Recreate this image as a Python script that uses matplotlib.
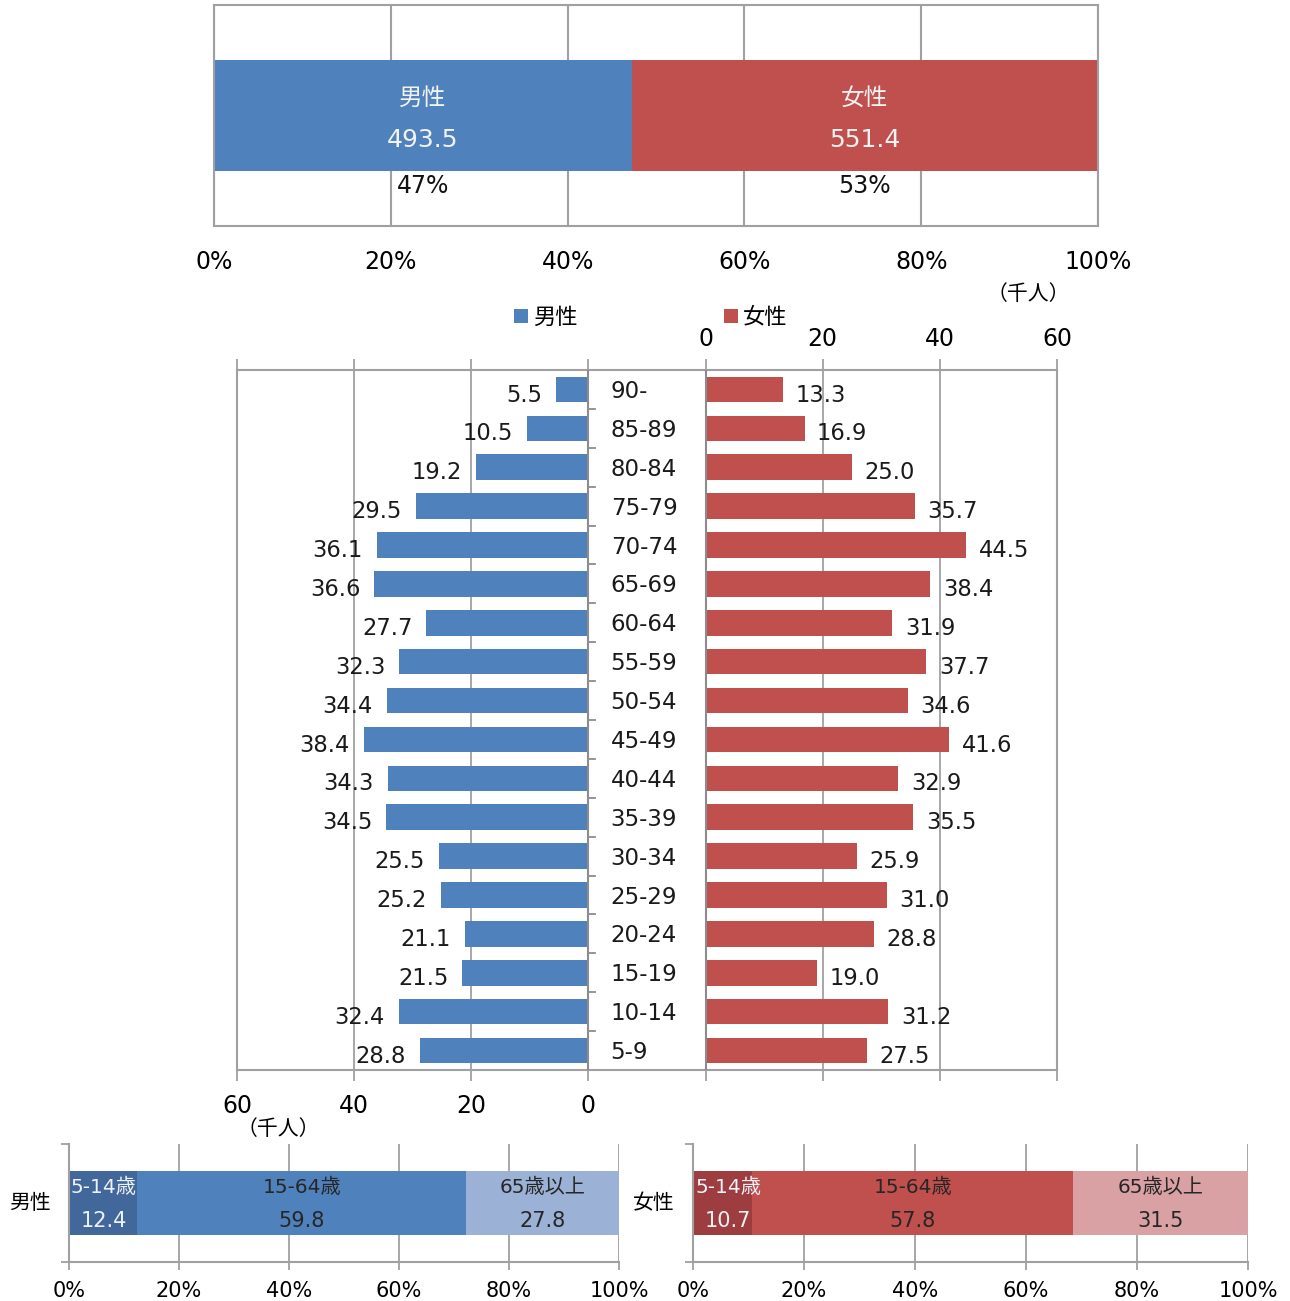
import numpy as np
import matplotlib
matplotlib.use("Agg")
import matplotlib.pyplot as plt

plt.rcParams['font.family'] = ['DejaVu Sans', 'Noto Sans CJK JP']

# totals (thousand people)
sexes = ['男性', '女性']
totals = [493.5, 551.4]

# population pyramid (thousand people)
age_groups = ['90-', '85-89', '80-84', '75-79', '70-74', '65-69', '60-64', '55-59',
              '50-54', '45-49', '40-44', '35-39', '30-34', '25-29', '20-24', '15-19',
              '10-14', '5-9']
male = [5.5, 10.5, 19.2, 29.5, 36.1, 36.6, 27.7, 32.3, 34.4, 38.4, 34.3, 34.5,
        25.5, 25.2, 21.1, 21.5, 32.4, 28.8]
female = [13.3, 16.9, 25.0, 35.7, 44.5, 38.4, 31.9, 37.7, 34.6, 41.6, 32.9, 35.5,
          25.9, 31.0, 28.8, 19.0, 31.2, 27.5]

# age structure shares (%)
band_labels = ['5-14歳', '15-64歳', '65歳以上']
male_share = [12.4, 59.8, 27.8]
female_share = [10.7, 57.8, 31.5]

BLUE = '#4F81BD'
RED = '#C0504D'
male_cols = ['#42679A', BLUE, '#9BB2D6']
female_cols = ['#9E3D40', RED, '#D9A1A3']
band_txt = ['#EEF2F8', '#262626', '#262626']
GRID = '#A0A0A0'

W, H = 1290, 1301
fig = plt.figure(figsize=(W / 100, H / 100), dpi=100)


def px_axes(x0, y0, x1, y1):
    return fig.add_axes([x0 / W, 1 - y1 / H, (x1 - x0) / W, (y1 - y0) / H])


# ---- top: share of total by sex ----
ax = px_axes(214, 5, 1098, 226)
pct = np.array(totals) / sum(totals) * 100
left = 0
for name, tot, p, col in zip(sexes, totals, pct, [BLUE, RED]):
    ax.barh(0, p, left=left, height=0.5, color=col, zorder=2)
    cx = left + p / 2
    ax.text(cx, 0.078, name, ha='center', va='center', color='#F2F2F2', fontsize=17, zorder=3)
    ax.text(cx, -0.113, f'{tot:.1f}', ha='center', va='center', color='#F2F2F2', fontsize=18, zorder=3)
    ax.text(cx, -0.32, f'{p:.0f}%', ha='center', va='center', color='#111111', fontsize=17, zorder=3)
    left += p
ax.set_xlim(0, 100)
ax.set_ylim(-0.5, 0.5)
ax.set_xticks(np.arange(0, 101, 20))
ax.set_xticklabels([f'{v}%' for v in range(0, 101, 20)])
ax.set_yticks([])
ax.tick_params(axis='x', length=0, pad=17, labelsize=17)
ax.grid(axis='x', color=GRID, lw=1.5, zorder=1)
for s in ax.spines.values():
    s.set_color(GRID)
    s.set_linewidth(1.5)

fig.text(1028 / W, 1 - 294 / H, '（千人）', ha='center', va='center', fontsize=15)

# ---- middle: population pyramid ----
GAP = 20
ax = px_axes(237, 370, 1057, 1070)
y = np.arange(len(age_groups))
mb = ax.barh(y, [-v for v in male], height=0.66, color=BLUE, zorder=2)
fb = ax.barh(y, female, left=GAP, height=0.66, color=RED, zorder=2)
for yi, v in zip(y, male):
    ax.annotate(f'{v:.1f}', (-v, yi), xytext=(-10, -4), textcoords='offset points',
                ha='right', va='center', fontsize=16.3, color='#1a1a1a', zorder=3)
for yi, v in zip(y, female):
    ax.annotate(f'{v:.1f}', (GAP + v, yi), xytext=(9, -4), textcoords='offset points',
                ha='left', va='center', fontsize=16.3, color='#1a1a1a', zorder=3)
for yi, lab in zip(y, age_groups):
    ax.annotate(lab, (0, yi), xytext=(16, -1.5), textcoords='offset points',
                ha='left', va='center', fontsize=16.5, color='#1a1a1a')
ax.set_ylim(len(age_groups) - 0.5, -0.5)
ax.set_xlim(-60, 60 + GAP)
for gx in [-40, -20, GAP + 20, GAP + 40]:
    ax.axvline(gx, color=GRID, lw=1.3, zorder=1)
ax.axvline(0, color='#8C8C8C', lw=1.5, zorder=3)
ax.axvline(GAP, color='#8C8C8C', lw=1.5, zorder=3)
for b in np.arange(0.5, len(age_groups) - 1, 1):
    ax.plot([0, 1.2], [b, b], color='#8C8C8C', lw=1.3, zorder=3)
xt = np.arange(-60, 60 + GAP + 1, 20)
ax.set_xticks(xt)
ax.set_xticklabels([str(abs(v)) if v <= 0 else '' for v in xt])
sec = ax.secondary_xaxis('top')
sec.set_xticks(xt)
sec.set_xticklabels([str(v - GAP) if v >= GAP else '' for v in xt])
sec.tick_params(length=8, color=GRID, width=1.3, pad=6, labelsize=17)
sec.spines['top'].set_visible(False)
ax.tick_params(axis='x', length=8, color=GRID, width=1.3, pad=9, labelsize=17)
ax.set_yticks([])
for s in ax.spines.values():
    s.set_color(GRID)
    s.set_linewidth(1.5)

ax.legend([mb, fb], sexes, ncol=2, loc='center', bbox_to_anchor=(651 / W, 1 - 317 / H),
          bbox_transform=fig.transFigure, frameon=False, fontsize=16, handlelength=0.6,
          handleheight=0.6, handletextpad=0.25, columnspacing=6.6)
fig.text(278 / W, 1 - 1129 / H, '（千人）', ha='center', va='center', fontsize=15)

# ---- bottom: age structure by sex ----
for (x0, x1), name, shares, cols, lx in [((69, 619), '男性', male_share, male_cols, 30),
                                         ((693, 1248), '女性', female_share, female_cols, 654)]:
    ax = px_axes(x0, 1144, x1, 1262)
    left = 0
    for lab, v, c, tc in zip(band_labels, shares, cols, band_txt):
        ax.barh(0, v, left=left, height=0.55, color=c, zorder=2)
        # keep the narrow first label inside the axes
        cx = max(left + v / 2, 6.3)
        ax.text(cx, 0.13, lab, ha='center', va='center', fontsize=14.5, color=tc, zorder=3)
        ax.text(cx, -0.155, f'{v:.1f}', ha='center', va='center', fontsize=15, color=tc, zorder=3)
        left += v
    ax.set_xlim(0, 100)
    ax.set_ylim(-0.5, 0.5)
    for gx in range(20, 101, 20):
        ax.axvline(gx, color=GRID, lw=1.3, zorder=1)
    ax.set_xticks(np.arange(0, 101, 20))
    ax.set_xticklabels([f'{v}%' for v in range(0, 101, 20)])
    ax.set_yticks([-0.5, 0.5])
    ax.set_yticklabels(['', ''])
    ax.tick_params(axis='both', length=6, color=GRID, width=1.3, labelsize=15)
    ax.tick_params(axis='x', pad=8)
    ax.spines['top'].set_visible(False)
    ax.spines['right'].set_visible(False)
    for s in ['left', 'bottom']:
        ax.spines[s].set_color(GRID)
        ax.spines[s].set_linewidth(1.5)
    fig.text(lx / W, 1 - 1203 / H, name, ha='center', va='center', fontsize=15)

fig.savefig('out.png', dpi=100)
